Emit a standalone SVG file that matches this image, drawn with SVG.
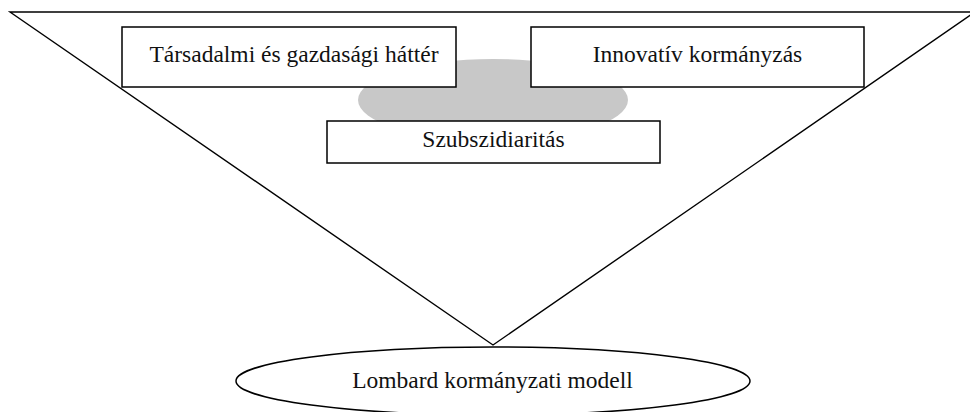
<svg xmlns="http://www.w3.org/2000/svg" width="970" height="412" viewBox="0 0 970 412">
<style>
.box{fill:#fff;stroke:#000;stroke-width:1.5}
.lbl{font-family:"Liberation Serif","Times New Roman",serif;font-size:23.5px;fill:#111;text-anchor:middle}
.edge{fill:none;stroke:#000;stroke-width:1.4}
</style>
<rect width="970" height="412" fill="#fff"/>
<g id="connectors">
<polyline class="edge" points="972,12 10,12 493,345 972,14"/>
</g>
<g id="background">
<ellipse cx="493" cy="100" rx="135" ry="41" fill="#c8c8c8"/>
</g>
<g id="node-tarsadalmi">
<rect class="box" x="122" y="27" width="334" height="60"/>
<text class="lbl" x="294" y="62">Társadalmi és gazdasági háttér</text>
</g>
<g id="node-innovativ">
<rect class="box" x="531" y="27" width="333" height="60"/>
<text class="lbl" x="697.5" y="62">Innovatív kormányzás</text>
</g>
<g id="node-szubszidiaritas">
<rect class="box" x="327" y="121" width="333" height="42"/>
<text class="lbl" x="493.5" y="147">Szubszidiaritás</text>
</g>
<g id="node-lombard">
<ellipse class="box" cx="493" cy="381" rx="257" ry="34"/>
<text class="lbl" x="492.5" y="388">Lombard kormányzati modell</text>
</g>
</svg>
